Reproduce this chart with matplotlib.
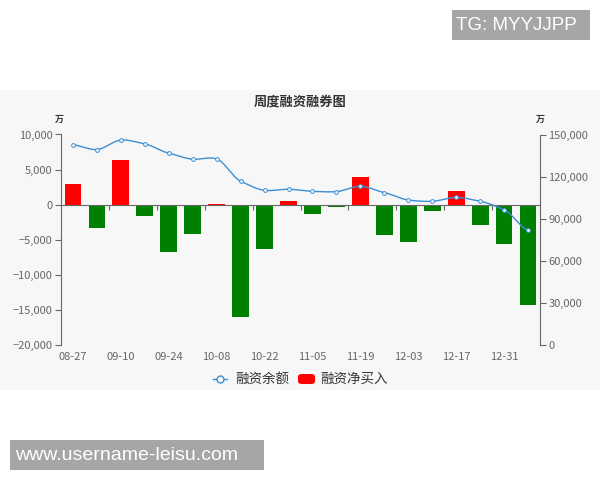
import numpy as np
import matplotlib
matplotlib.use("Agg")
import matplotlib.pyplot as plt
from matplotlib.patches import Rectangle, FancyBboxPatch
from matplotlib.lines import Line2D
from matplotlib.ticker import FuncFormatter

plt.rcParams['font.family'] = ['Noto Sans CJK SC', 'DejaVu Sans']
plt.rcParams['axes.unicode_minus'] = True

# ---------------- data ----------------
dates = ["08-27", "09-03", "09-10", "09-17", "09-24", "10-01", "10-08", "10-15",
         "10-22", "10-29", "11-05", "11-12", "11-19", "11-26", "12-03", "12-10",
         "12-17", "12-24", "12-31", "01-07"]
net_buy = [2900, -3350, 6400, -1580, -6750, -4250, 100, -16050,
           -6250, 530, -1390, -330, 3880, -4350, -5300, -910,
           2010, -2870, -5650, -14300]
balance = [142600, 139300, 146000, 143300, 136700, 132400, 132600, 116700,
           110200, 111000, 109500, 109300, 113100, 108600, 103300, 102400,
           105200, 102400, 96400, 81900]
left_ticks = [-20000, -15000, -10000, -5000, 0, 5000, 10000]
right_ticks = [0, 30000, 60000, 90000, 120000, 150000]
title = "周度融资融券图"
series_names = ["融资余额", "融资净买入"]

W, H = 600, 480
fig = plt.figure(figsize=(6, 4.8), dpi=100)
fig.patch.set_facecolor("white")

def fx(px):
    return px / W

def fy(py):
    return 1 - py / H

# gray chart background
fig.patches.append(Rectangle((0, fy(389.5)), 1, fy(89.5) - fy(389.5),
                             transform=fig.transFigure, facecolor="#f7f7f7",
                             edgecolor="none", zorder=-10))

ax_l, ax_r, ax_t, ax_b = 61, 540, 134.5, 345
ax = fig.add_axes([fx(ax_l), fy(ax_b), fx(ax_r - ax_l), fy(ax_t) - fy(ax_b)])
ax.set_zorder(2)
ax.set_facecolor("none")
n = len(dates)
x = np.arange(n)
colors = ["#ff0000" if v >= 0 else "#008000" for v in net_buy]
ax.bar(x, net_buy, width=0.7, color=colors, zorder=2)
ax.set_xlim(-0.5, n - 0.5)
ax.set_ylim(-20000, 10000)
ax.set_yticks(left_ticks)
fmt = FuncFormatter(lambda v, p: "{:,.0f}".format(v).replace("-", "\u2212"))
ax.yaxis.set_major_formatter(fmt)
ax.set_xticks(x[::2])
ax.set_xticklabels(dates[::2])
ax.tick_params(axis="x", length=0, pad=5, labelsize=8, labelcolor="#666666")
ax.tick_params(axis="y", length=4, width=0.8, color="#666666", pad=2,
               labelsize=8, labelcolor="#666666")
for s in ["top", "right", "bottom"]:
    ax.spines[s].set_visible(False)
ax.spines["left"].set_color("#666666")
ax.spines["left"].set_linewidth(0.8)
ax.axhline(0, color="#666666", lw=0.8, zorder=3)
bounds = np.arange(1.5, n, 2)
tick_len = 30000 / (ax_b - ax_t) * 5
ax.vlines(bounds, -tick_len, 0, color="#666666", lw=0.8, zorder=3)

ax2 = ax.twinx()
ax2.set_ylim(0, 150000)
ax2.set_yticks(right_ticks)
ax2.yaxis.set_major_formatter(FuncFormatter(lambda v, p: "{:,.0f}".format(v)))
ax2.tick_params(axis="y", length=4, width=0.8, color="#666666", pad=2,
                labelsize=8, labelcolor="#666666")
for s in ["top", "left", "bottom"]:
    ax2.spines[s].set_visible(False)
ax2.spines["right"].set_color("#666666")
ax2.spines["right"].set_linewidth(0.8)

# smooth curve (Catmull-Rom through the data points)
yb = np.array(balance, dtype=float)
xs, ys = [], []
for i in range(n - 1):
    p0 = yb[max(i - 1, 0)]
    p1 = yb[i]
    p2 = yb[i + 1]
    p3 = yb[min(i + 2, n - 1)]
    t = np.linspace(0, 1, 25)
    m1 = (p2 - p0) / 2 * 0.7
    m2 = (p3 - p1) / 2 * 0.7
    h00 = 2 * t**3 - 3 * t**2 + 1
    h10 = t**3 - 2 * t**2 + t
    h01 = -2 * t**3 + 3 * t**2
    h11 = t**3 - t**2
    xs.append(i + t)
    ys.append(h00 * p1 + h10 * m1 + h01 * p2 + h11 * m2)
line_color = "#3a8fd5"
ax2.plot(np.concatenate(xs), np.concatenate(ys), color=line_color, lw=1.0, zorder=4)
ax2.plot(x, yb, linestyle="none", marker="o", markersize=2.7,
         markerfacecolor="white", markeredgecolor=line_color,
         markeredgewidth=0.7, zorder=5)

# title and units
fig.text(0.5, fy(101), title, ha="center", va="center", fontsize=9.5,
         fontweight="bold", color="#333333")
fig.text(fx(59), fy(119), "万", ha="center", va="center", fontsize=6.5,
         fontweight="bold", color="#333333")
fig.text(fx(540), fy(119), "万", ha="center", va="center", fontsize=6.5,
         fontweight="bold", color="#333333")

# legend
ly = fy(379)
fig.add_artist(Line2D([fx(213), fx(227)], [ly, ly], transform=fig.transFigure,
                      color=line_color, lw=1.0))
fig.add_artist(Line2D([fx(220)], [ly], transform=fig.transFigure, marker="o",
                      markersize=5, markerfacecolor="#f7f7f7",
                      markeredgecolor=line_color, markeredgewidth=1.0))
fig.text(fx(235), ly, series_names[0], ha="left", va="center", fontsize=9.7,
         color="#333333")
fig.patches.append(FancyBboxPatch((fx(298), fy(384)), fx(17), fy(374) - fy(384),
                                  boxstyle="round,pad=0,rounding_size=0.006",
                                  transform=fig.transFigure, facecolor="#ff0000",
                                  edgecolor="none"))
fig.text(fx(320), ly, series_names[1], ha="left", va="center", fontsize=9.7,
         color="#333333")

# watermark boxes
fig.patches.append(Rectangle((fx(452), fy(40)), fx(138), fy(10) - fy(40),
                             transform=fig.transFigure, facecolor="#a6a6a6",
                             edgecolor="none"))
fig.text(fx(456), fy(25), "TG: MYYJJPP", ha="left", va="center", fontsize=13.5,
         color="white", family=["Liberation Sans", "DejaVu Sans"])
fig.patches.append(Rectangle((fx(9.5), fy(470)), fx(254.5), fy(440) - fy(470),
                             transform=fig.transFigure, facecolor="#a6a6a6",
                             edgecolor="none"))
fig.text(fx(15), fy(455), "www.username-leisu.com", ha="left", va="center",
         fontsize=14, color="white", family=["Liberation Sans", "DejaVu Sans"])

fig.savefig("out.png", dpi=100)
